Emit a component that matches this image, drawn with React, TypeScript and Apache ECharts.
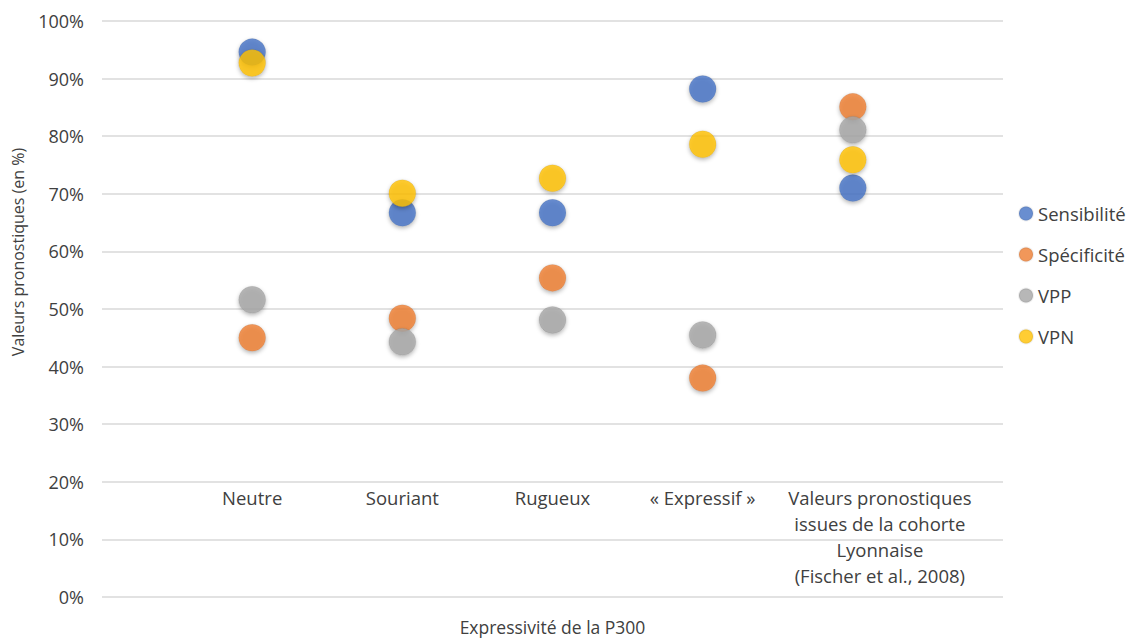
import React, { useEffect, useRef } from "react";
import * as echarts from "echarts";

const categories = ["Neutre", "Souriant", "Rugueux", "« Expressif »", "Valeurs pronostiques\nissues de la cohorte\nLyonnaise\n(Fischer et al., 2008)"];
const xPositions = [1, 2, 3, 4, 5];
const sensibilite = [94.6, 66.7, 66.7, 88.2, 71.0];
const specificite = [45.0, 48.4, 55.4, 38.0, 85.1];
const vpp = [51.6, 44.3, 48.1, 45.5, 81.1];
const vpn = [92.7, 70.1, 72.7, 78.6, 75.9];

const seriesDefs = [
  { name: "Sensibilité", data: sensibilite, color: "#4472C4" },
  { name: "Spécificité", data: specificite, color: "#ED7D31" },
  { name: "VPP", data: vpp, color: "#A5A5A5" },
  { name: "VPN", data: vpn, color: "#FFC000" },
];

const FONT = "'Open Sans', Lato, sans-serif";
const TXT = "#404040";

export default function App() {
  const ref = useRef<HTMLDivElement>(null);
  useEffect(() => {
    const chart = echarts.init(ref.current!, null, { renderer: "svg" });
    chart.setOption({
      animation: false,
      backgroundColor: "#ffffff",
      textStyle: { fontFamily: FONT },
      grid: { left: 102, right: 126, top: 21, bottom: 42, outerBoundsMode: "none", containLabel: false },
      legend: {
        orient: "vertical",
        left: 1013,
        top: 199,
        icon: "circle",
        itemWidth: 14,
        itemHeight: 14,
        itemGap: 22,
        textStyle: { fontSize: 18.5, color: TXT, fontFamily: FONT },
        data: seriesDefs.map((s) => s.name),
      },
      xAxis: {
        type: "value",
        min: 0,
        max: 6,
        interval: 1,
        name: "Expressivité de la P300",
        nameLocation: "middle",
        nameGap: 21,
        nameTextStyle: { fontSize: 17.5, color: TXT, fontFamily: FONT },
        axisLine: { show: false },
        axisTick: { show: false },
        splitLine: { show: false },
        axisLabel: {
          inside: true,
          margin: 113,
          verticalAlign: "top",
          align: "center",
          fontSize: 18.5,
          lineHeight: 26,
          color: TXT,
          fontFamily: FONT,
          rich: {
            w: { fontSize: 18.5, lineHeight: 26, color: TXT, fontFamily: FONT, padding: [0, 0, 0, 54] },
          },
          formatter: (v: number) => {
            const i = xPositions.indexOf(v);
            if (i < 0) return "";
            const t = categories[i];
            if (t.indexOf("\n") >= 0) {
              return t.split("\n").map((l) => "{w|" + l + "}").join("\n");
            }
            return t;
          },
        },
      },
      yAxis: {
        type: "value",
        min: 0,
        max: 100,
        interval: 10,
        axisLine: { show: false },
        axisTick: { show: false },
        axisLabel: {
          formatter: (v: number) => v + "%",
          fontSize: 18,
          color: TXT,
          margin: 18,
          fontFamily: FONT,
        },
        splitLine: { lineStyle: { color: "#D9D9D9", width: 1.5 } },
      },
      graphic: [
        {
          type: "text",
          x: 18,
          y: 252,
          rotation: Math.PI / 2,
          style: {
            text: "Valeurs pronostiques (en %)",
            fontSize: 16,
            fill: TXT,
            fontFamily: FONT,
            align: "center",
            verticalAlign: "middle",
          },
        },
      ],
      series: seriesDefs.map((s) => ({
        name: s.name,
        type: "scatter",
        symbol: "circle",
        symbolSize: 27,
        data: s.data.map((v, i) => [xPositions[i], v]),
        itemStyle: {
          color: s.color,
          borderColor: "rgba(0,0,0,0.08)",
          borderWidth: 1,
          shadowBlur: 4,
          shadowOffsetY: 2,
          shadowColor: "rgba(0,0,0,0.35)",
        },
      })),
    });
    return () => chart.dispose();
  }, []);
  return (
    <div
      ref={ref}
      style={{ position: "fixed", left: 0, top: 0, width: 1129, height: 639 }}
    />
  );
}
